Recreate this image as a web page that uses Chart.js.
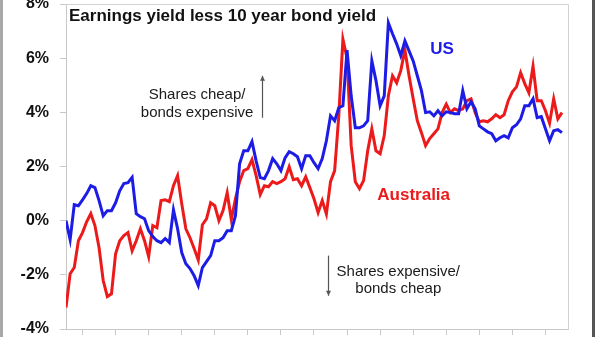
<!DOCTYPE html>
<html>
<head>
<meta charset="utf-8">
<title>Earnings yield less 10 year bond yield</title>
<script src="https://cdn.jsdelivr.net/npm/chart.js@4.4.0/dist/chart.umd.min.js"></script>
<style>
  html, body { margin: 0; padding: 0; background: #fff; }
  #frame { position: relative; width: 600px; height: 337px; overflow: hidden; background: #fff; }
  #wrap { position: absolute; left: 0; top: -8px; width: 600px; height: 345px; }
  .edge { position: absolute; top: 0; height: 337px; }
  #edgeL { left: 0; width: 3px; background: #a8a8a8; }
  #edgeR { left: 592px; width: 3px; background: #555; }
</style>
</head>
<body>
<div id="frame">
  <div id="wrap"><canvas id="myChart" width="600" height="345"></canvas></div>
  <div class="edge" id="edgeL"></div>
  <div class="edge" id="edgeR"></div>
</div>
<script>
'use strict';

// quarterly dates (decimal years)
const quarters = [
  1983, 1983.25, 1983.5, 1983.75, 1984, 1984.25, 1984.5, 1984.75,
  1985, 1985.25, 1985.5, 1985.75, 1986, 1986.25, 1986.5, 1986.75,
  1987, 1987.25, 1987.5, 1987.75, 1988, 1988.25, 1988.5, 1988.75,
  1989, 1989.25, 1989.5, 1989.75, 1990, 1990.25, 1990.5, 1990.75,
  1991, 1991.25, 1991.5, 1991.75, 1992, 1992.25, 1992.5, 1992.75,
  1993, 1993.25, 1993.5, 1993.75, 1994, 1994.25, 1994.5, 1994.75,
  1995, 1995.25, 1995.5, 1995.75, 1996, 1996.25, 1996.5, 1996.75,
  1997, 1997.25, 1997.5, 1997.75, 1998, 1998.25, 1998.5, 1998.75,
  1999, 1999.25, 1999.5, 1999.75, 2000, 2000.25, 2000.5, 2000.75,
  2001, 2001.25, 2001.5, 2001.75, 2002, 2002.25, 2002.5, 2002.75,
  2003, 2003.25, 2003.5, 2003.75, 2004, 2004.25, 2004.5, 2004.75,
  2005, 2005.25, 2005.5, 2005.75, 2006, 2006.25, 2006.5, 2006.75,
  2007, 2007.25, 2007.5, 2007.75, 2008, 2008.25, 2008.5, 2008.75,
  2009, 2009.25, 2009.5, 2009.75, 2010, 2010.25, 2010.5, 2010.75,
  2011, 2011.25, 2011.5, 2011.75, 2012, 2012.25, 2012.5, 2012.75,
  2013
];

// earnings yield minus 10y bond yield, %
const usGap = [
  0.00, -0.70, 0.59, 0.55, 0.77, 1.00, 1.29, 1.22, 0.74, 0.18,
  0.37, 0.37, 0.66, 1.10, 1.37, 1.40, 1.60, 0.26, 0.15, 0.07,
  -0.37, -0.59, -0.74, -0.81, -0.66, -0.81, 0.40, -0.30, -1.18, -1.59,
  -1.77, -2.03, -2.40, -1.73, -1.51, -1.29, -0.74, -0.74, -0.63, -0.37,
  -0.37, 0.18, 2.10, 2.58, 2.58, 2.92, 2.21, 1.59, 1.55, 1.85,
  2.29, 2.10, 1.85, 2.32, 2.55, 2.47, 2.36, 1.92, 2.40, 2.40,
  2.14, 1.92, 2.29, 2.95, 3.87, 3.69, 4.17, 4.24, 6.30, 4.61,
  3.43, 3.43, 3.50, 3.69, 5.90, 5.17, 4.24, 4.61, 7.30, 6.90,
  6.53, 6.09, 6.64, 6.27, 5.90, 5.35, 4.80, 3.99, 4.02, 3.87,
  4.06, 3.87, 4.02, 3.99, 3.95, 3.95, 4.80, 4.13, 4.39, 4.13,
  3.50, 3.39, 3.28, 3.21, 2.95, 3.06, 3.14, 3.06, 3.43, 3.54,
  3.76, 4.24, 4.24, 4.50, 3.80, 3.84, 3.39, 2.95, 3.32, 3.36,
  3.25
];

const ausGap = [
  -3.21, -1.96, -1.73, -0.74, -0.44, -0.04, 0.26, -0.18, -1.00, -2.21,
  -2.80, -2.70, -1.22, -0.74, -0.55, -0.44, -1.11, -0.74, -0.30, -0.74,
  -1.33, -0.18, -0.26, 0.74, 0.77, 0.70, 1.29, 1.66, 0.63, -0.30,
  -0.63, -1.03, -1.45, -0.15, 0.07, 0.66, 0.55, 0.00, 0.37, 1.03,
  0.04, 0.81, 1.44, 1.85, 1.92, 2.25, 1.66, 0.96, 1.29, 1.25,
  1.44, 1.37, 1.44, 1.55, 1.99, 1.51, 1.55, 1.29, 1.62, 1.22,
  0.81, 0.30, 0.74, 0.25, 1.44, 1.85, 3.87, 6.70, 6.00, 2.77,
  1.44, 1.18, 1.48, 2.58, 3.39, 2.58, 2.47, 3.14, 4.61, 5.35,
  5.09, 5.54, 6.30, 5.35, 4.50, 3.69, 3.25, 2.77, 3.03, 3.21,
  3.39, 3.99, 4.30, 3.99, 4.13, 4.06, 4.13, 4.43, 4.50, 3.99,
  3.65, 3.69, 3.65, 3.76, 3.91, 3.80, 3.91, 4.43, 4.76, 4.94,
  5.46, 5.06, 4.72, 5.70, 4.43, 4.43, 4.06, 3.60, 4.50, 3.76,
  3.99
];

const yTicks = [-4, -2, 0, 2, 4, 6, 8];
const seriesNames = ['US', 'Australia'];

const BLUE = '#1c1ce6';
const RED = '#ec1a1a';
const FONT = '"Liberation Sans", Arial, sans-serif';

// text + arrows, placed in data units (year, %)
const notes = [
  { text: 'Earnings yield less 10 year bond yield', x: 1983.18, y: 7.53, align: 'left', font: 'bold 17px', color: '#111' },
  { text: 'Shares cheap/', x: 1990.93, y: 4.65, align: 'center', font: '15px', color: '#1a1a1a' },
  { text: 'bonds expensive', x: 1990.93, y: 3.99, align: 'center', font: '15px', color: '#1a1a1a' },
  { text: 'Shares expensive/', x: 2003.1, y: -1.88, align: 'center', font: '15px', color: '#1a1a1a' },
  { text: 'bonds cheap', x: 2003.1, y: -2.51, align: 'center', font: '15px', color: '#1a1a1a' },
  { text: seriesNames[0], x: 2005.75, y: 6.31, align: 'center', font: 'bold 17px', color: BLUE },
  { text: seriesNames[1], x: 2004.03, y: 0.92, align: 'center', font: 'bold 17px', color: RED }
];
const arrows = [
  { x: 1994.85, from: 3.8, to: 5.35 },
  { x: 1998.85, from: -1.29, to: -2.77 }
];

const notesPlugin = {
  id: 'notes',
  afterDatasetsDraw(chart) {
    const ctx = chart.ctx;
    const area = chart.chartArea;
    const xs = chart.scales.x, ys = chart.scales.y;
    ctx.save();
    // top and right edge of the plot box
    ctx.strokeStyle = '#d2d2d2';
    ctx.lineWidth = 1;
    ctx.beginPath();
    ctx.moveTo(area.left, area.top + 0.5);
    ctx.lineTo(area.right + 0.5, area.top + 0.5);
    ctx.lineTo(area.right + 0.5, area.bottom);
    ctx.stroke();

    ctx.textBaseline = 'middle';
    notes.forEach(function(n) {
      ctx.font = n.font + ' ' + FONT;
      ctx.fillStyle = n.color;
      ctx.textAlign = n.align;
      ctx.fillText(n.text, xs.getPixelForValue(n.x), ys.getPixelForValue(n.y));
    });

    ctx.strokeStyle = '#555';
    ctx.fillStyle = '#555';
    ctx.lineWidth = 1.2;
    arrows.forEach(function(a) {
      const px = Math.round(xs.getPixelForValue(a.x)) + 0.5;
      const y1 = ys.getPixelForValue(a.from);
      const y2 = ys.getPixelForValue(a.to);
      const dir = y2 < y1 ? -1 : 1;
      ctx.beginPath();
      ctx.moveTo(px, y1);
      ctx.lineTo(px, y2);
      ctx.stroke();
      ctx.beginPath();
      ctx.moveTo(px, y2);
      ctx.lineTo(px - 2.5, y2 - dir * 5);
      ctx.lineTo(px + 2.5, y2 - dir * 5);
      ctx.closePath();
      ctx.fill();
    });
    ctx.restore();
  }
};

const canvas = document.getElementById('myChart');
const chart = new Chart(canvas.getContext('2d'), {
  type: 'line',
  data: {
    labels: quarters,
    datasets: [{
      label: seriesNames[0],
      data: usGap,
      borderColor: BLUE,
      borderWidth: 3,
      pointRadius: 0,
      tension: 0
    },
    {
      label: seriesNames[1],
      data: ausGap,
      borderColor: RED,
      borderWidth: 3,
      pointRadius: 0,
      tension: 0
    }]
  },
  options: {
    responsive: false,
    animation: false,
    events: [],
    layout: { padding: { top: 12, right: 32, left: 0, bottom: 0 } },
    plugins: {
      legend: { display: false },
      tooltip: { enabled: false }
    },
    scales: {
      x: {
        type: 'linear',
        min: 1983,
        max: 2013.365,
        afterFit: function(s) { s.height = 8; s.paddingLeft = 0; s.paddingRight = 0; },
        ticks: { display: false, stepSize: 2, includeBounds: false },
        grid: { drawOnChartArea: false, color: '#c8c8c8', tickLength: 6 },
        border: { color: '#c8c8c8' }
      },
      y: {
        min: yTicks[0],
        max: yTicks[yTicks.length - 1],
        afterFit: function(s) { s.width = 66; s.paddingTop = 0; s.paddingBottom = 0; },
        afterBuildTicks: function(s) { s.ticks = yTicks.map(function(v) { return { value: v }; }); },
        ticks: {
          padding: 11,
          color: '#111',
          font: { family: FONT, size: 16, weight: 'bold' },
          callback: function(v) { return v + '%'; }
        },
        grid: { drawOnChartArea: false, color: '#c8c8c8', tickLength: 6 },
        border: { color: '#c8c8c8' }
      }
    }
  },
  plugins: [notesPlugin]
});
</script>
</body>
</html>
